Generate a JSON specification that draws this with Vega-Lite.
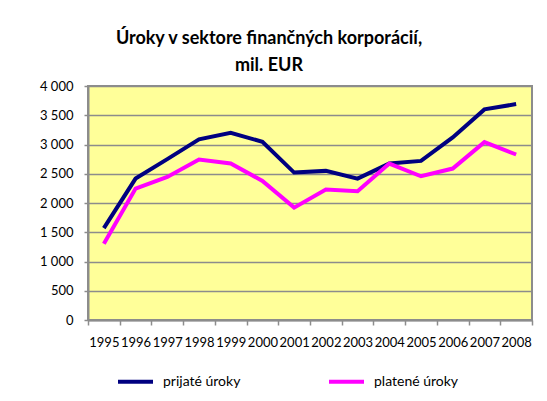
{
  "$schema": "https://vega.github.io/schema/vega-lite/v6.json",
  "width": 444,
  "height": 234,
  "autosize": {"type": "none"},
  "padding": {"left": 88, "top": 86, "right": 15, "bottom": 81},
  "background": "white",
  "title": {
    "text": ["Úroky v sektore finančných korporácií,", "mil. EUR"],
    "font": "Lato",
    "fontSize": 18,
    "fontWeight": "bold",
    "color": "black",
    "anchor": "middle",
    "dx": -41,
    "offset": 5,
    "lineHeight": 27
  },
  "config": {
    "locale": {"number": {"decimal": ",", "thousands": "\u00a0", "grouping": [3], "currency": ["", " €"]}},
    "view": {"fill": "#FFFF99", "stroke": "#8c8c8c", "strokeWidth": 2},
    "font": "Lato"
  },
  "data": {
    "values": [
      {"rok": "1995", "seria": "prijaté úroky", "hodnota": 1571},
      {"rok": "1996", "seria": "prijaté úroky", "hodnota": 2418},
      {"rok": "1997", "seria": "prijaté úroky", "hodnota": 2750},
      {"rok": "1998", "seria": "prijaté úroky", "hodnota": 3087},
      {"rok": "1999", "seria": "prijaté úroky", "hodnota": 3201},
      {"rok": "2000", "seria": "prijaté úroky", "hodnota": 3046},
      {"rok": "2001", "seria": "prijaté úroky", "hodnota": 2520},
      {"rok": "2002", "seria": "prijaté úroky", "hodnota": 2549},
      {"rok": "2003", "seria": "prijaté úroky", "hodnota": 2417},
      {"rok": "2004", "seria": "prijaté úroky", "hodnota": 2674},
      {"rok": "2005", "seria": "prijaté úroky", "hodnota": 2720},
      {"rok": "2006", "seria": "prijaté úroky", "hodnota": 3120},
      {"rok": "2007", "seria": "prijaté úroky", "hodnota": 3600},
      {"rok": "2008", "seria": "prijaté úroky", "hodnota": 3691},
      {"rok": "1995", "seria": "platené úroky", "hodnota": 1303},
      {"rok": "1996", "seria": "platené úroky", "hodnota": 2247},
      {"rok": "1997", "seria": "platené úroky", "hodnota": 2446},
      {"rok": "1998", "seria": "platené úroky", "hodnota": 2744},
      {"rok": "1999", "seria": "platené úroky", "hodnota": 2676},
      {"rok": "2000", "seria": "platené úroky", "hodnota": 2377},
      {"rok": "2001", "seria": "platené úroky", "hodnota": 1921},
      {"rok": "2002", "seria": "platené úroky", "hodnota": 2229},
      {"rok": "2003", "seria": "platené úroky", "hodnota": 2200},
      {"rok": "2004", "seria": "platené úroky", "hodnota": 2674},
      {"rok": "2005", "seria": "platené úroky", "hodnota": 2457},
      {"rok": "2006", "seria": "platené úroky", "hodnota": 2589},
      {"rok": "2007", "seria": "platené úroky", "hodnota": 3040},
      {"rok": "2008", "seria": "platené úroky", "hodnota": 2829}
    ]
  },
  "mark": {"type": "line", "strokeWidth": 4},
  "encoding": {
    "x": {
      "field": "rok",
      "type": "ordinal",
      "scale": {"type": "band", "paddingInner": 0, "paddingOuter": 0},
      "axis": {
        "title": null,
        "labelAngle": 0,
        "labelFont": "Lato",
        "labelFontSize": 13,
        "labelColor": "black",
        "labelOverlap": false,
        "labelBound": false,
        "labelPadding": 11,
        "tickBand": "extent",
        "tickColor": "#8c8c8c",
        "tickSize": 5,
        "tickWidth": 1.5,
        "domainColor": "#8c8c8c",
        "domainWidth": 2,
        "grid": false
      }
    },
    "y": {
      "field": "hodnota",
      "type": "quantitative",
      "scale": {"domain": [0, 4000], "nice": false},
      "axis": {
        "title": null,
        "values": [0, 500, 1000, 1500, 2000, 2500, 3000, 3500, 4000],
        "format": ",.0f",
        "labelFont": "Lato",
        "labelFontSize": 13,
        "labelColor": "black",
        "labelPadding": 11,
        "tickColor": "#8c8c8c",
        "tickSize": 4,
        "tickWidth": 1.5,
        "domainColor": "#8c8c8c",
        "domainWidth": 2,
        "grid": true,
        "gridColor": "#8c8c8c",
        "gridWidth": 1.5,
        "gridOpacity": 1
      }
    },
    "color": {
      "field": "seria",
      "type": "nominal",
      "sort": ["prijaté úroky", "platené úroky"],
      "scale": {"domain": ["prijaté úroky", "platené úroky"], "range": ["#000080", "#FF00FF"]},
      "legend": {
        "title": null,
        "orient": "none",
        "direction": "horizontal",
        "legendX": 28,
        "legendY": 276,
        "symbolType": "stroke",
        "symbolSize": 1225,
        "symbolStrokeWidth": 4,
        "labelFont": "Lato",
        "labelFontSize": 14,
        "labelColor": "black",
        "labelOffset": 8,
        "columnPadding": 80
      }
    }
  }
}
